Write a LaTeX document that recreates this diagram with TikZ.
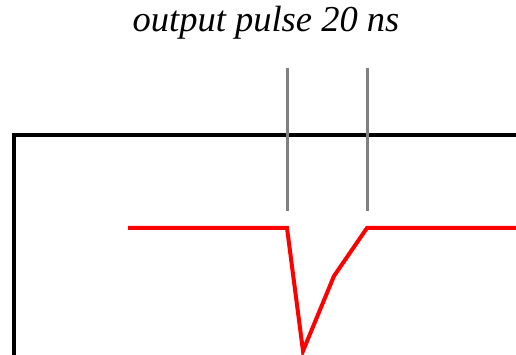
\documentclass[tikz,border=0pt]{standalone}
\usepackage{fontspec}
\setmainfont{Liberation Serif}
\usetikzlibrary{positioning}
\tikzset{
  axis_line/.style={line width=4pt,draw=black},
  marker_line/.style={line width=3pt,draw=black!50},
  pulse_line/.style={line width=4pt,draw=red,line join=miter},
  title_text/.style={font=\fontsize{36.5}{42}\selectfont\itshape,inner sep=0pt,anchor=base},
}
\begin{document}
\begin{tikzpicture}[x=1pt,y=-1pt]
  \useasboundingbox (0,0) rectangle (516,355);
  \node (title) [title_text] at (266,32) {output pulse 20 ns};
  % frame of the scope trace
  \coordinate (cornerB) at (14,357);
  \coordinate (cornerTL) at (14,135);
  \coordinate (cornerTR) at (518,135);
  \draw[axis_line] (cornerB) -- (cornerTL) -- (cornerTR);
  % 20 ns markers
  \coordinate (mA1) at (287,68); \coordinate (mA2) at (287,211);
  \coordinate (mB1) at (367,68); \coordinate (mB2) at (367,211);
  \draw[marker_line] (mA1) -- (mA2);
  \draw[marker_line] (mB1) -- (mB2);
  % the pulse
  \coordinate (pStart) at (128,228);
  \coordinate (pFall) at (287,228);
  \coordinate (pLow) at (303,351);
  \coordinate (pKnee) at (334,276);
  \coordinate (pRise) at (367,228);
  \coordinate (pEnd) at (518,228);
  \draw[pulse_line] (pStart) -- (pFall) -- (pLow) -- (pKnee) -- (pRise) -- (pEnd);
\end{tikzpicture}
\end{document}
